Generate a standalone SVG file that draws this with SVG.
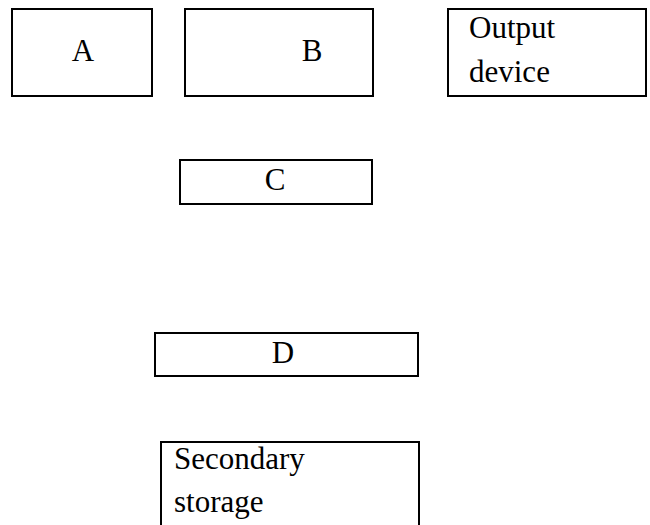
<svg xmlns="http://www.w3.org/2000/svg" width="650" height="525" viewBox="0 0 650 525">
<style>
.box{fill:#fff;stroke:#000;stroke-width:2}
.t{font-family:"Liberation Serif","Times New Roman",serif;font-size:31px;fill:#000}
.m{text-anchor:middle}
</style>
<rect width="650" height="525" fill="#fff"/>
<g id="connectors"></g>
<g id="nodeA"><rect class="box" x="12" y="9" width="140" height="87"/><text class="t m" x="83" y="61">A</text></g>
<g id="nodeB"><rect class="box" x="185" y="9" width="188" height="87"/><text class="t m" x="312" y="61">B</text></g>
<g id="output"><rect class="box" x="448" y="9" width="198" height="87"/><text class="t" x="469" y="38">Output</text><text class="t" x="469" y="82">device</text></g>
<g id="nodeC"><rect class="box" x="180" y="160" width="192" height="44"/><text class="t m" x="275" y="190">C</text></g>
<g id="nodeD"><rect class="box" x="155" y="333" width="263" height="43"/><text class="t m" x="283" y="363">D</text></g>
<g id="secondary"><rect class="box" x="161" y="442" width="258" height="95"/><text class="t" x="174" y="469">Secondary</text><text class="t" x="174" y="512">storage</text></g>
</svg>
